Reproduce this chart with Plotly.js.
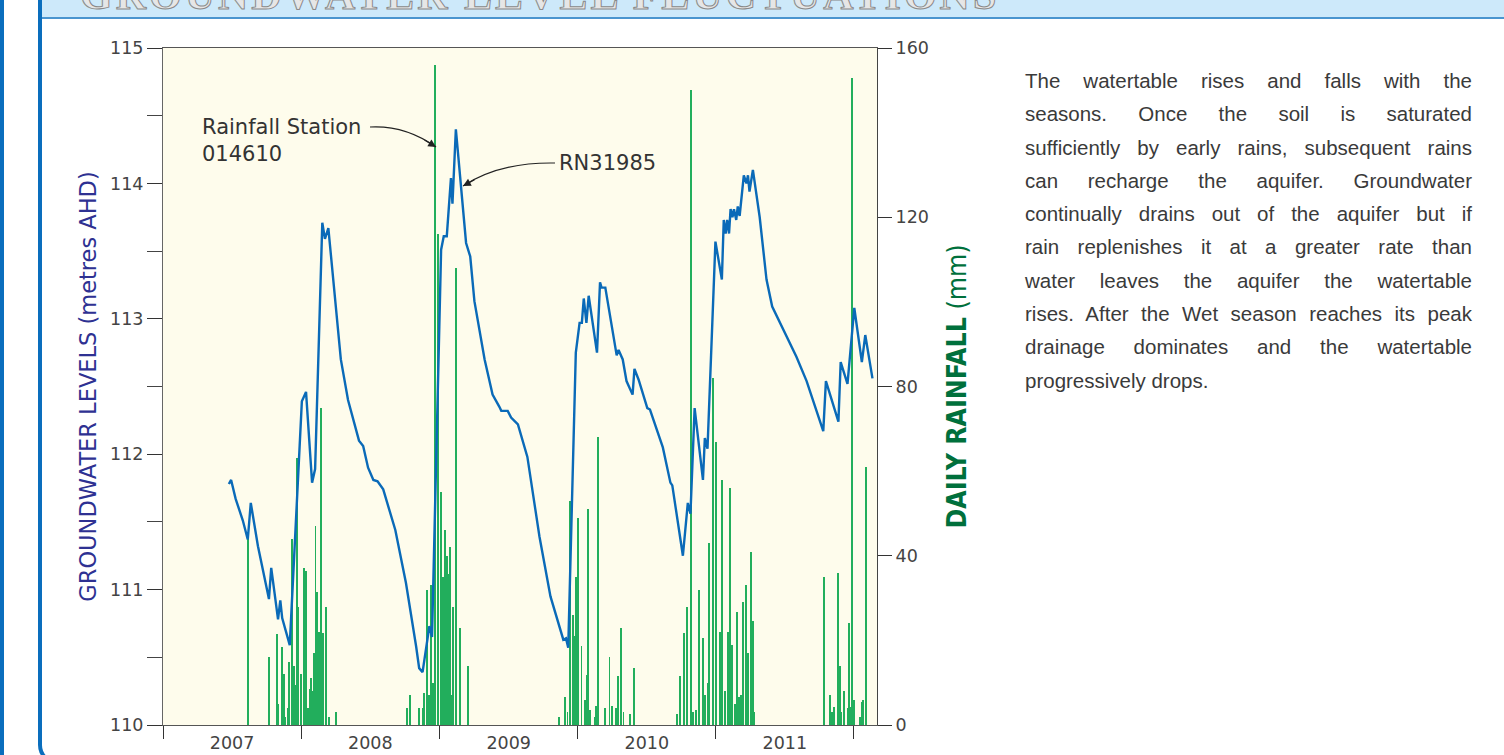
<!DOCTYPE html>
<html><head><meta charset="utf-8">
<script src="https://cdn.plot.ly/plotly-3.0.1.min.js"></script>
<style>
html,body{margin:0;padding:0;background:#fff;width:1504px;height:755px;overflow:hidden;font-family:"Liberation Sans",Arial,sans-serif;}
#chart{position:absolute;left:0;top:0;width:1504px;height:755px;}
.outer{position:absolute;left:0;top:0;width:4px;height:755px;background:#0A6EBD;}
.inner{position:absolute;left:38px;top:-20px;width:40px;height:785px;border-left:4px solid #0A6EBD;border-bottom:4px solid #0A6EBD;border-bottom-left-radius:20px;box-sizing:border-box;}
.header{position:absolute;left:42px;top:0;width:1462px;height:17px;background:#CDE9FA;border-bottom:2px solid #4A95CF;overflow:hidden;}
.htitle{position:absolute;left:38px;top:-26px;font-family:"Liberation Serif",serif;font-weight:bold;font-size:42px;line-height:42px;letter-spacing:3px;color:#e6e6e6;-webkit-text-stroke:1px #8a8a8a;white-space:nowrap;}
.para{position:absolute;left:1025px;top:64px;width:447px;font-size:20.5px;line-height:33.3px;color:#3a3a3a;}
.para div{text-align:justify;text-align-last:justify;}
.para div.last{text-align-last:left;}
</style></head>
<body>
<div id="chart"></div>
<div class="outer"></div>
<div class="inner"></div>
<div class="header"><div class="htitle">GROUNDWATER LEVEL FLUCTUATIONS</div></div>
<div class="para">
<div>The watertable rises and falls with the</div>
<div>seasons. Once the soil is saturated</div>
<div>sufficiently by early rains, subsequent rains</div>
<div>can recharge the aquifer. Groundwater</div>
<div>continually drains out of the aquifer but if</div>
<div>rain replenishes it at a greater rate than</div>
<div>water leaves the aquifer the watertable</div>
<div>rises. After the Wet season reaches its peak</div>
<div>drainage dominates and the watertable</div>
<div class="last">progressively drops.</div>
</div>
<script>
var gwDates = ['2007-06-24','2007-06-30','2007-07-12','2007-07-31','2007-08-13','2007-08-21','2007-09-09','2007-10-08','2007-10-14','2007-11-01','2007-11-07','2007-11-12','2007-12-02',
'2008-01-03','2008-01-14','2008-01-30','2008-02-07','2008-02-26','2008-03-04','2008-03-13','2008-04-15','2008-05-04','2008-06-02','2008-06-13','2008-06-26','2008-07-10','2008-07-21','2008-08-05','2008-09-06','2008-10-04','2008-10-31','2008-11-08','2008-11-17','2008-12-05','2008-12-12',
'2009-01-05','2009-01-12','2009-01-20','2009-01-31','2009-02-04','2009-02-13','2009-03-12','2009-03-23','2009-04-03','2009-04-30','2009-05-21','2009-06-08','2009-06-13','2009-06-30','2009-07-09','2009-07-27','2009-08-21','2009-09-22','2009-10-21','2009-11-24','2009-12-01','2009-12-07','2009-12-27',
'2010-01-06','2010-01-12','2010-01-17','2010-01-24','2010-01-30','2010-02-21','2010-03-01','2010-03-05','2010-03-15','2010-04-14','2010-04-19','2010-04-30','2010-05-10','2010-05-26','2010-05-31','2010-06-11','2010-07-04','2010-07-11','2010-08-14','2010-09-03','2010-09-08','2010-10-06','2010-10-19','2010-10-26','2010-11-06','2010-11-28','2010-12-03','2010-12-10','2010-12-31',
'2011-01-17','2011-01-22','2011-01-27','2011-01-31','2011-02-05','2011-02-09','2011-02-14','2011-02-18','2011-02-24','2011-02-28','2011-03-05','2011-03-16','2011-03-23','2011-03-27','2011-03-31','2011-04-09','2011-04-27','2011-05-15','2011-05-30','2011-08-02','2011-08-29','2011-10-12','2011-10-19','2011-11-21','2011-11-27','2011-12-15',
'2012-01-02','2012-01-22','2012-01-31','2012-02-19'];
var gwLevels = [111.78,111.81,111.67,111.51,111.37,111.64,111.32,110.93,111.16,110.78,110.92,110.79,110.59,
112.39,112.46,111.79,111.89,113.71,113.59,113.67,112.70,112.40,112.10,112.06,111.90,111.81,111.80,111.74,111.44,111.05,110.58,110.42,110.39,110.73,110.65,
113.51,113.61,113.61,114.04,113.85,114.40,113.56,113.46,113.13,112.70,112.44,112.35,112.32,112.32,112.27,112.22,111.98,111.39,110.95,110.63,110.64,110.57,112.75,
112.97,112.97,113.15,112.97,113.17,112.75,113.27,113.23,113.23,112.73,112.77,112.70,112.54,112.44,112.63,112.55,112.34,112.33,112.05,111.79,111.77,111.25,111.64,111.56,112.34,111.81,112.12,112.04,113.57,
113.29,113.73,113.63,113.73,113.63,113.81,113.75,113.81,113.73,113.83,113.76,114.06,114.00,114.06,113.94,114.10,113.75,113.29,113.09,112.72,112.54,112.17,112.54,112.24,112.68,112.52,
113.08,112.68,112.88,112.56];

var rainDates = ['2007-08-14','2007-10-08','2007-10-29','2007-11-02','2007-11-11','2007-11-16','2007-11-20','2007-11-27','2007-12-01','2007-12-08','2007-12-12','2007-12-16','2007-12-21','2007-12-25',
'2008-01-01','2008-01-08','2008-01-14','2008-01-20','2008-01-25','2008-01-27','2008-01-31','2008-02-03','2008-02-08','2008-02-12','2008-02-18','2008-02-23','2008-02-28','2008-03-08','2008-03-15','2008-04-02',
'2008-10-06','2008-10-16','2008-11-08','2008-11-17','2008-11-22','2008-11-28','2008-12-03','2008-12-08','2008-12-14','2008-12-19','2008-12-29',
'2009-01-05','2009-01-10','2009-01-14','2009-01-21','2009-01-25','2009-01-28','2009-02-02','2009-02-06','2009-02-13','2009-02-24','2009-03-16',
'2009-11-12','2009-11-29','2009-12-05','2009-12-12','2009-12-19','2009-12-23','2009-12-28',
'2010-01-02','2010-01-11','2010-01-20','2010-01-25','2010-01-29','2010-02-03','2010-02-15','2010-02-19','2010-02-24','2010-03-15','2010-03-26','2010-04-01','2010-04-13','2010-04-17','2010-04-25','2010-05-02','2010-05-18','2010-05-29',
'2010-09-21','2010-09-28','2010-10-09','2010-10-16','2010-10-28','2010-11-02','2010-11-10','2010-11-17','2010-11-27','2010-12-03','2010-12-10','2010-12-14','2010-12-24',
'2011-01-01','2011-01-11','2011-01-18','2011-01-25','2011-02-01','2011-02-07','2011-02-14','2011-02-21','2011-02-27','2011-03-03','2011-03-08','2011-03-13','2011-03-22','2011-03-27','2011-04-04','2011-04-09','2011-04-12',
'2011-10-14','2011-10-30','2011-11-05','2011-11-09','2011-11-19','2011-11-24','2011-11-29','2011-12-06','2011-12-15','2011-12-19','2011-12-24','2011-12-27',
'2012-01-01','2012-01-17','2012-01-21','2012-01-26','2012-02-01'];
var rainMm = [44,16,21.5,5,18.4,12,2,4,15,44,14,9.5,63,28,
12,37,36.5,4,8.5,11,8,17,47,31.4,22,75,21.8,28,2,3,
4,7,4,4,7.5,32,7,33,10,156,116,
55,35,46,40,35.6,42,7,28,108,23,14,
2,6.6,3,53,26,21,35,
49,18.7,6,11.7,51,3.5,2,4.5,68,4,16,4.5,4,11.5,23,3,2.5,13.5,
2.5,11.5,21.7,28,150,3,3.5,32,20.5,7,10,43,82,
67,22,58,8,22,56,19,5,26.8,6.7,7,29,33,17,41,24.5,3,
35,7,3,4.3,36,14,3,8,4,24,4.3,153,
6,2,5.5,6,61];

var FONT = '"DejaVu Sans", "Liberation Sans", sans-serif';
var tickFont = {family:FONT, size:17.5, color:'#444'};
var DAY = 86400000;

var traces = [
  {type:'bar', x:rainDates, y:rainMm, yaxis:'y', width:5.2*DAY,
   marker:{color:'#22ae5c', line:{width:0}}, hoverinfo:'x+y'},
  {type:'scatter', mode:'lines', x:gwDates, y:gwLevels, yaxis:'y2',
   line:{color:'#0A6AB8', width:2.4}}
];

var layout = {
  width:1504, height:755,
  margin:{l:163, r:627, t:48, b:30, pad:0},
  paper_bgcolor:'rgba(0,0,0,0)', plot_bgcolor:'#FEFCEC',
  showlegend:false, bargap:0,
  font:{family:FONT, color:'#333'},
  xaxis:{type:'date', range:['2007-01-01','2012-03-02'], tick0:'2007-01-01', dtick:'M12',
    tickformat:'%Y', ticklabelmode:'period', ticks:'outside', ticklen:13, tickwidth:1, tickcolor:'#333',
    ticklabelstandoff:-11,
    showline:true, mirror:true, linecolor:'#555', linewidth:1, showgrid:false, zeroline:false,
    tickfont:tickFont, automargin:false},
  yaxis:{range:[0,160], side:'right', tickvals:[0,40,80,120,160], ticks:'outside', ticklen:14,
    tickcolor:'#333', showline:true, linecolor:'#444', linewidth:1, showgrid:false, zeroline:false,
    tickfont:tickFont, automargin:false,
    title:{text:'<b>DAILY RAINFALL</b> (mm)', standoff:19,
      font:{family:'"DejaVu Sans Condensed", "Liberation Sans", sans-serif', size:26.5, color:'#00703C'}}},
  yaxis2:{range:[110,115], overlaying:'y', side:'left', tickvals:[110,111,112,113,114,115],
    ticks:'outside', ticklen:15, tickcolor:'#333',
    minor:{ticks:'outside', ticklen:15, tickvals:[110.5,111.5,112.5,113.5,114.5], tickcolor:'#444'},
    showline:true, linecolor:'#666', linewidth:1, showgrid:false, zeroline:false,
    tickfont:tickFont, automargin:false,
    title:{text:'GROUNDWATER LEVELS (metres AHD)', standoff:7,
      font:{family:FONT, size:22.5, color:'#2E3192'}}},
  shapes:[
    {type:'path', xref:'paper', yref:'paper', path:'M0.2899,0.8833 Q0.3389,0.8863 0.3824,0.8538',
     line:{color:'#222', width:1.2}},
    {type:'path', xref:'paper', yref:'paper', path:'M0.5490,0.8301 Q0.4720,0.8316 0.4202,0.7962',
     line:{color:'#222', width:1.2}}
  ],
  annotations:[
    {xref:'paper', yref:'paper', x:0.0518, y:0.9040, xanchor:'left', yanchor:'top', align:'left',
     text:'Rainfall Station<br>014610', showarrow:false, font:{family:FONT, size:21, color:'#333'}},
    {xref:'paper', yref:'paper', x:0.5518, y:0.8301, xanchor:'left', yanchor:'middle',
     text:'RN31985', showarrow:false, font:{family:FONT, size:21, color:'#333'}},
    {xref:'paper', yref:'paper', x:0.3824, y:0.8538, text:'', showarrow:true, arrowhead:2,
     arrowsize:1.3, arrowwidth:1.2, arrowcolor:'#222', ax:-13, ay:-8, standoff:0},
    {xref:'paper', yref:'paper', x:0.4202, y:0.7962, text:'', showarrow:true, arrowhead:2,
     arrowsize:1.3, arrowwidth:1.2, arrowcolor:'#222', ax:13, ay:-7, standoff:0}
  ]
};

Plotly.newPlot('chart', traces, layout, {staticPlot:true});
</script>
</body></html>
